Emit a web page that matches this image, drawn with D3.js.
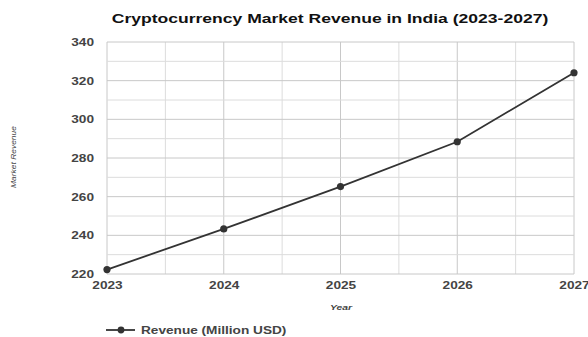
<!DOCTYPE html>
<html>
<head>
<meta charset="utf-8">
<script src="https://cdn.jsdelivr.net/npm/d3@7"></script>
<style>
  html, body { margin: 0; padding: 0; background: #fff; }
  svg { display: block; font-family: "Liberation Sans", Arial, sans-serif; }
</style>
</head>
<body>
<svg id="chart" width="588" height="337"></svg>
<script>
// Revenue series, in million USD
const years = [2023, 2024, 2025, 2026, 2027];
const revenue = [222.3, 243.3, 265.2, 288.4, 324.1];
const yTicks = [220, 240, 260, 280, 300, 320, 340];
const seriesName = "Revenue (Million USD)";
const titleText = "Cryptocurrency Market Revenue in India (2023-2027)";
const xTitle = "Year";
const yTitle = "Market Revenue";

const svg = d3.select("#chart");
const margin = { left: 107, right: 14, top: 42, bottom: 63 };
const W = 588, H = 337;
const SX = 1.3; // wide lettering: horizontal stretch applied to all text

const x = d3.scaleLinear().domain([2023, 2027]).range([margin.left, W - margin.right]);
const y = d3.scaleLinear().domain([220, 340]).range([H - margin.bottom, margin.top]);

// place a horizontally stretched text at (px, py)
function wideText(parent, px, py, str, anchor) {
  return parent.append("text")
    .attr("transform", `translate(${px},${py}) scale(${SX},1)`)
    .attr("text-anchor", anchor || "start")
    .text(str);
}

// grid: half years and every 10 units
const g = svg.append("g");
g.selectAll("line.v").data(d3.range(2023, 2027.01, 0.5)).join("line")
  .attr("x1", d => x(d)).attr("x2", d => x(d))
  .attr("y1", y(220)).attr("y2", y(340))
  .attr("stroke", d => Number.isInteger(d) ? "#c8c8c8" : "#dcdcdc")
  .attr("stroke-width", 1);
g.selectAll("line.h").data(d3.range(220, 340.01, 10)).join("line")
  .attr("x1", x(2023)).attr("x2", x(2027))
  .attr("y1", d => y(d)).attr("y2", d => y(d))
  .attr("stroke", d => d % 20 === 0 ? "#c8c8c8" : "#dcdcdc")
  .attr("stroke-width", 1);

// axes
const xAxis = d3.axisBottom(x).tickValues(years).tickFormat(d3.format("d")).tickSize(0).tickPadding(7);
const yAxis = d3.axisLeft(y).tickValues(yTicks).tickSize(0);
const gx = svg.append("g").attr("transform", `translate(0,${y(220)})`).call(xAxis);
const gy = svg.append("g").attr("transform", `translate(${x(2023)},0)`).call(yAxis);
[gx, gy].forEach(a => {
  a.select(".domain").remove();
  a.selectAll("text").attr("fill", "#444").style("font-size", "10.5px").style("font-weight", "bold");
});
gx.selectAll("text").attr("transform", `scale(${SX},1)`).attr("y", 8);
gy.selectAll("text").attr("x", -13 / SX).attr("transform", `scale(${SX},1)`);

// line and points
const pts = years.map((yr, i) => [yr, revenue[i]]);
svg.append("path").datum(pts)
  .attr("fill", "none").attr("stroke", "#333").attr("stroke-width", 1.8)
  .attr("d", d3.line().x(d => x(d[0])).y(d => y(d[1])));
svg.selectAll("circle.pt").data(pts).join("circle")
  .attr("cx", d => x(d[0])).attr("cy", d => y(d[1])).attr("r", 3.6).attr("fill", "#333");

// title
wideText(svg, 330, 23, titleText, "middle")
  .style("font-size", "13.5px").style("font-weight", "bold").attr("fill", "#111");

// axis titles
wideText(svg, 341, 310, xTitle, "middle")
  .style("font-size", "8px").style("font-style", "italic").style("font-weight", "bold").attr("fill", "#444");
svg.append("text").attr("transform", `translate(16,157) rotate(-90) scale(${SX},1)`).attr("text-anchor", "middle")
  .style("font-size", "6.5px").style("font-style", "italic").attr("fill", "#444").text(yTitle);

// legend
const lg = svg.append("g").attr("transform", "translate(106,330)");
lg.append("line").attr("x1", 0).attr("x2", 29).attr("y1", 0).attr("y2", 0).attr("stroke", "#333").attr("stroke-width", 1.8);
lg.append("circle").attr("cx", 15).attr("cy", 0).attr("r", 3.4).attr("fill", "#333");
wideText(lg, 35, 4, seriesName, "start")
  .style("font-size", "10.5px").style("font-weight", "bold").attr("fill", "#444");
</script>
</body>
</html>
